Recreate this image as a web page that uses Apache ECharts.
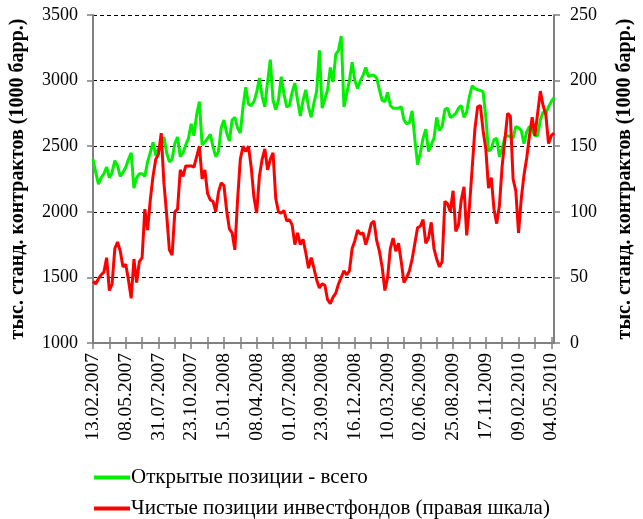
<!DOCTYPE html>
<html>
<head>
<meta charset="utf-8">
<script src="https://cdn.jsdelivr.net/npm/echarts@6/dist/echarts.min.js"></script>
<style>
  html, body { margin: 0; padding: 0; background: #fff; }
  #chart { width: 643px; height: 519px; }
</style>
</head>
<body>
<div id="chart"></div>
<script>
// weekly data, first week 13.02.2007 (year, month, day)
const startDate = [2007, 2, 13];

// Открытые позиции - всего (левая шкала)
const openInterest = [
  2400, 2300, 2210, 2260, 2290, 2340, 2260, 2300, 2390, 2350, 2270, 2300,
  2340, 2400, 2450, 2180, 2260, 2290, 2290, 2270, 2380, 2450, 2530, 2430,
  2480, 2510, 2570, 2450, 2380, 2400, 2520, 2570, 2420, 2450, 2510, 2560,
  2670, 2580, 2740, 2840, 2510, 2530, 2560, 2590,
  2495, 2420, 2460, 2640, 2700, 2600, 2540, 2700, 2720, 2640, 2600, 2800,
  2950, 2820, 2810, 2840, 2910, 3020, 2880, 2800, 2990, 3160, 2850, 2780,
  2850, 3030, 2900, 2800, 2810, 2910, 2980, 2850, 2730, 2850, 2930, 2800,
  2720, 2830, 2920, 3230, 2790, 2860,
  2930, 3100, 2990, 3200, 3230, 3340, 2800, 2900, 3000, 3140, 3000, 2940,
  3000, 3040, 3100, 3030, 3040, 3040, 3020, 2930, 2850, 2840, 2910, 2810,
  2790, 2790, 2790, 2800, 2700, 2670, 2680, 2770, 2550, 2360, 2450, 2560,
  2630, 2460, 2510, 2560, 2720, 2620,
  2650, 2780, 2790, 2720, 2730, 2750, 2790, 2810, 2720, 2760, 2880, 2960,
  2940, 2930, 2925, 2915, 2720, 2460, 2480, 2550, 2560, 2420, 2480, 2570,
  2580, 2570, 2560, 2650, 2640, 2620, 2520, 2610, 2650, 2620, 2580, 2580,
  2700, 2760, 2750, 2800, 2840, 2870
];

// Чистые позиции инвестфондов (правая шкала)
const netPositions = [
  47, 45, 49, 52, 54, 65, 40, 45, 72, 77, 70, 58,
  60, 48, 34, 64, 46, 62, 65, 102, 86, 109, 127, 140,
  144, 160, 122, 98, 71, 67, 100, 102, 132, 127, 135, 135,
  135, 134, 142, 150, 125, 132, 114, 109,
  108, 100, 115, 122, 120, 101, 87, 84, 71, 109, 140, 150,
  146, 150, 134, 111, 99, 127, 140, 148, 132, 140, 145, 110,
  100, 99, 101, 93, 94, 90, 75, 84, 75, 79, 69, 57,
  65, 57, 48, 42, 45, 44,
  33, 30, 35, 38, 45, 50, 55, 52, 55, 72, 78, 86,
  83, 84, 75, 82, 91, 93, 78, 70, 58, 40, 50, 72,
  80, 70, 76, 62, 46, 50, 55, 64, 76, 88, 89, 94,
  76, 80, 92, 72, 64, 58,
  62, 108, 106, 100, 116, 85, 90, 109, 119, 82, 104, 133,
  163, 180, 181, 162, 148, 118, 126, 102, 91, 105, 135, 155,
  175, 173, 125, 116, 84, 110, 128, 141, 158, 172, 158, 175,
  192, 181, 174, 152, 158, 160
];

const leftTicks = { min: 1000, max: 3500, interval: 500 };
const rightTicks = { min: 0, max: 250, interval: 50 };
const axisTitle = 'тыс. станд. контрактов (1000 барр.)';
const legendNames = ['Открытые позиции - всего', 'Чистые позиции инвестфондов (правая шкала)'];

const pad = n => (n < 10 ? '0' : '') + n;
const weeks = openInterest.map((_, i) => {
  const d = new Date(Date.UTC(startDate[0], startDate[1] - 1, startDate[2] + 7 * i));
  return pad(d.getUTCDate()) + '.' + pad(d.getUTCMonth() + 1) + '.' + d.getUTCFullYear();
});

const font = 'Liberation Serif';
const axisGray = '#808080';

const baseY = (ticks, pos) => ({
  type: 'value',
  position: pos,
  min: ticks.min,
  max: ticks.max,
  interval: ticks.interval,
  axisLine: { show: true, lineStyle: { color: axisGray, width: 2 } },
  axisTick: { show: true, length: 6, lineStyle: { color: axisGray, width: 1.5 } },
  splitLine: { show: false }
});

const legendBox = (name, top) => ({
  left: 89,
  top: top,
  itemWidth: 36,
  itemHeight: 4,
  itemGap: 0,
  icon: 'rect',
  data: [name],
  textStyle: { fontFamily: font, fontSize: 21, color: '#000', padding: [0, 0, 0, -4] }
});

const titleStyle = { fontFamily: font, fontSize: 20, fontWeight: 'bold', color: '#000' };

const option = {
  animation: false,
  textStyle: { fontFamily: font },
  grid: { left: 88, right: 77, top: 15, bottom: 176 },
  legend: [legendBox(legendNames[0], 462), legendBox(legendNames[1], 493)],
  xAxis: [
    {
      type: 'category',
      data: weeks,
      boundaryGap: false,
      axisLine: { lineStyle: { color: axisGray, width: 2 } },
      axisTick: { interval: 5, length: 6, lineStyle: { color: axisGray, width: 1.5 } },
      axisLabel: { interval: 11, rotate: 90, margin: 10, color: '#000', fontFamily: font, fontSize: 19.5 },
      splitLine: { show: false }
    },
    {
      type: 'category',
      data: weeks,
      boundaryGap: false,
      position: 'bottom',
      axisLine: { show: false },
      axisTick: { interval: 5, inside: true, length: 6, lineStyle: { color: axisGray, width: 1.5 } },
      axisLabel: { show: false }
    }
  ],
  yAxis: [
    Object.assign(baseY(leftTicks, 'left'), {
      name: axisTitle,
      nameLocation: 'middle',
      nameRotate: 90,
      nameGap: 65,
      nameTextStyle: titleStyle,
      axisLabel: { margin: 15, color: '#000', fontFamily: font, fontSize: 18, formatter: v => String(v) },
      splitLine: { show: true, lineStyle: { color: '#000', type: [4, 3], width: 1 } }
    }),
    Object.assign(baseY(rightTicks, 'right'), {
      name: axisTitle,
      nameLocation: 'middle',
      nameRotate: 90,
      nameGap: 61,
      nameTextStyle: titleStyle,
      axisLabel: { margin: 16, color: '#000', fontFamily: font, fontSize: 18, formatter: v => String(v) }
    }),
    Object.assign(baseY(leftTicks, 'left'), {
      axisLine: { show: false },
      axisTick: { inside: true, length: 6, lineStyle: { color: axisGray, width: 1.5 } },
      axisLabel: { show: false }
    }),
    Object.assign(baseY(rightTicks, 'right'), {
      axisLine: { show: false },
      axisTick: { inside: true, length: 6, lineStyle: { color: axisGray, width: 1.5 } },
      axisLabel: { show: false }
    })
  ],
  series: [
    {
      name: legendNames[0],
      type: 'line',
      xAxisIndex: 0,
      yAxisIndex: 0,
      data: openInterest,
      showSymbol: false,
      symbol: 'none',
      lineStyle: { color: '#00f000', width: 3 },
      itemStyle: { color: '#00f000' },
      z: 2
    },
    {
      name: legendNames[1],
      type: 'line',
      xAxisIndex: 0,
      yAxisIndex: 1,
      data: netPositions,
      showSymbol: false,
      symbol: 'none',
      lineStyle: { color: '#ff0000', width: 3 },
      itemStyle: { color: '#ff0000' },
      z: 3
    }
  ]
};

echarts.init(document.getElementById('chart')).setOption(option);
</script>
</body>
</html>
